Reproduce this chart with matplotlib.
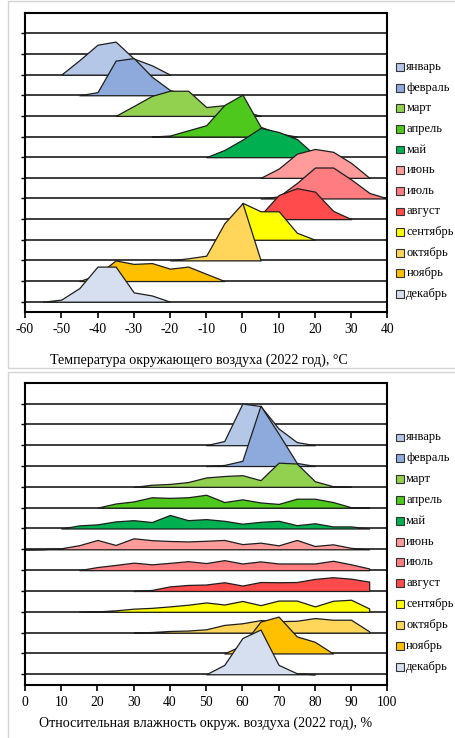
import numpy as np
import matplotlib
matplotlib.use("Agg")
import matplotlib.pyplot as plt
from matplotlib.patches import Rectangle
from matplotlib.transforms import blended_transform_factory

plt.rcParams['font.family'] = ['Liberation Serif', 'DejaVu Serif']

months = ["январь", "февраль", "март", "апрель", "май", "июнь",
          "июль", "август", "сентябрь", "октябрь", "ноябрь", "декабрь"]
colors = ["#b4c7e7", "#8eaadc", "#92d050", "#4ec81c", "#00b050", "#ff9b9b",
          "#ff7c80", "#ff4b4b", "#ffff00", "#ffd55a", "#ffc000", "#d6dff0"]

STEP = 5  # both value grids use a 5-unit step

# Air temperature, deg C: first grid value of each month and the curve heights
temp_start = [-50, -45, -35, -25, -10, 5, 5, 0, -5, -20, -45, -55]
temp_jan = [0, 0.7, 1.45, 1.6, 0.78, 0.45, 0]
temp_feb = [0, 0.15, 1.68, 1.8, 0.9, 0.25, 0]
temp_mar = [0, 0.48, 0.97, 1.22, 1.22, 0.43, 0.52, 0.25, 0]
temp_apr = [0, 0.05, 0.3, 0.55, 1.53, 2.03, 0.47, 0.15, 0]
temp_may = [0, 0.35, 0.85, 1.42, 1.22, 0.88, 0.1, 0]
temp_jun = [0, 0.45, 1.17, 1.4, 1.26, 0.72, 0]
temp_jul = [0, 0.1, 0.75, 1.5, 1.5, 0.92, 0.27, 0]
temp_aug = [0, 0.2, 1.17, 1.5, 1.33, 0.4, 0]
temp_sep = [0, 1.79, 1.38, 1.38, 0.34, 0]
temp_oct = [0, 0.1, 0.23, 1.8, 2.77, 0]
temp_nov = [0, 0.3, 1.0, 0.83, 0.87, 0.6, 0.7, 0.35, 0]
temp_dec = [0, 0.1, 0.66, 1.7, 1.7, 0.45, 0.3, 0]

# Relative humidity, %
hum_start = [50, 50, 30, 20, 10, 0, 15, 30, 15, 30, 55, 50]
hum_jan = [0, 0.2, 2.0, 1.88, 0.8, 0.15, 0]
hum_feb = [0, 0.05, 0.25, 2.9, 1.55, 0.15, 0]
hum_mar = [0, 0.1, 0.14, 0.23, 0.45, 0.52, 0.56, 0.32, 1.16, 1.12, 0.27, 0.03, 0]
hum_apr = [0, 0.2, 0.3, 0.5, 0.47, 0.5, 0.62, 0.27, 0.4, 0.25, 0.18, 0.43,
           0.43, 0.27, 0.02, 0]
hum_may = [0, 0.15, 0.2, 0.34, 0.4, 0.31, 0.65, 0.4, 0.45, 0.37, 0.23, 0.32,
           0.37, 0.16, 0.25, 0.1, 0.1, 0]
hum_jun = [0, 0.01, 0.05, 0.2, 0.45, 0.21, 0.53, 0.44, 0.4, 0.38, 0.41, 0.45,
           0.25, 0.32, 0.19, 0.45, 0.16, 0.24, 0.07, 0]
hum_jul = [0, 0.15, 0.25, 0.36, 0.28, 0.35, 0.43, 0.34, 0.48, 0.32, 0.42,
           0.32, 0.32, 0.32, 0.45, 0.28, 0.08]
hum_aug = [0, 0.05, 0.22, 0.29, 0.31, 0.42, 0.26, 0.43, 0.42, 0.43, 0.58,
           0.66, 0.59, 0.45]
hum_sep = [0, 0.02, 0.07, 0.15, 0.19, 0.26, 0.34, 0.45, 0.35, 0.52, 0.32,
           0.54, 0.54, 0.26, 0.53, 0.58, 0.16]
hum_oct = [0, 0.03, 0.08, 0.1, 0.16, 0.37, 0.45, 0.6, 0.55, 0.57, 0.7, 0.62,
           0.62, 0.06]
hum_nov = [0, 0.4, 1.53, 1.77, 0.82, 0.56, 0]
hum_dec = [0, 0.45, 1.74, 2.15, 0.45, 0.05, 0]

temp_rows = [temp_jan, temp_feb, temp_mar, temp_apr, temp_may, temp_jun,
             temp_jul, temp_aug, temp_sep, temp_oct, temp_nov, temp_dec]
hum_rows = [hum_jan, hum_feb, hum_mar, hum_apr, hum_may, hum_jun,
            hum_jul, hum_aug, hum_sep, hum_oct, hum_nov, hum_dec]

temp_ticks = [-60, -50, -40, -30, -20, -10, 0, 10, 20, 30, 40]
hum_ticks = [0, 10, 20, 30, 40, 50, 60, 70, 80, 90, 100]

W, H = 456, 738
fig = plt.figure(figsize=(W / 100, H / 100), dpi=100)
fig.patch.set_facecolor("white")


def px_box(left, top, right, bottom):
    return [left / W, 1 - bottom / H, (right - left) / W, (bottom - top) / H]


def ridge(ax, starts, rows, ticks):
    n = len(rows)
    for i, (s, vals) in enumerate(zip(starts, rows)):
        base = n - 1 - i
        x = s + STEP * np.arange(len(vals))
        y = base + np.asarray(vals, dtype=float)
        ax.fill_between(x, base, y, facecolor=colors[i], edgecolor="#1e1e1e",
                        linewidth=0.9, zorder=2 + 0.01 * i)
    for k in range(14):
        ax.axhline(k, color="#3c3c3c", lw=1.4, zorder=1.5)
    ax.set_xlim(ticks[0], ticks[-1])
    ax.set_ylim(-0.5, 14)
    ax.set_xticks(ticks)
    ax.set_xticklabels([str(t) for t in ticks])
    ax.set_yticks(range(14))
    ax.set_yticklabels([])
    ax.tick_params(axis="x", direction="out", length=4, width=1.2,
                   labelsize=9.8, pad=4.2, colors="black")
    ax.tick_params(axis="y", direction="out", length=3, width=1.0)
    for sp in ax.spines.values():
        sp.set_linewidth(1.5)
        sp.set_color("black")
        sp.set_zorder(5)

    tr = blended_transform_factory(ax.transAxes, ax.transData)
    for i, name in enumerate(months):
        yc = n - 1 - i + 0.37
        ax.add_patch(Rectangle((1.023, yc - 0.19), 0.022, 0.38, transform=tr,
                               facecolor=colors[i], edgecolor="#333333",
                               linewidth=0.8, clip_on=False))
        ax.text(1.052, yc, name, transform=tr, fontsize=9.0, va="center",
                ha="left")


# light frames around both chart areas
fig.patches.append(Rectangle((8.5 / W, 1 - 368 / H), 460 / W, 367 / H,
                             transform=fig.transFigure, fill=False,
                             edgecolor="#d4d4d4", lw=1.0))
fig.patches.append(Rectangle((8.5 / W, -0.01), 460 / W, 1 - 371.5 / H + 0.01,
                             transform=fig.transFigure, fill=False,
                             edgecolor="#d4d4d4", lw=1.0))

ax1 = fig.add_axes(px_box(25, 12.7, 387.5, 312))
ridge(ax1, temp_start, temp_rows, temp_ticks)
fig.text(198.7 / W, 1 - 360 / H,
         "Температура окружающего воздуха (2022 год), °С",
         ha="center", va="center", fontsize=10.1)

ax2 = fig.add_axes(px_box(25, 382.7, 387.3, 684.7))
ridge(ax2, hum_start, hum_rows, hum_ticks)
fig.text(205.3 / W, 1 - 723 / H,
         "Относительная влажность окруж. воздуха (2022 год), %",
         ha="center", va="center", fontsize=10.1)

fig.savefig("out.png", dpi=100)
